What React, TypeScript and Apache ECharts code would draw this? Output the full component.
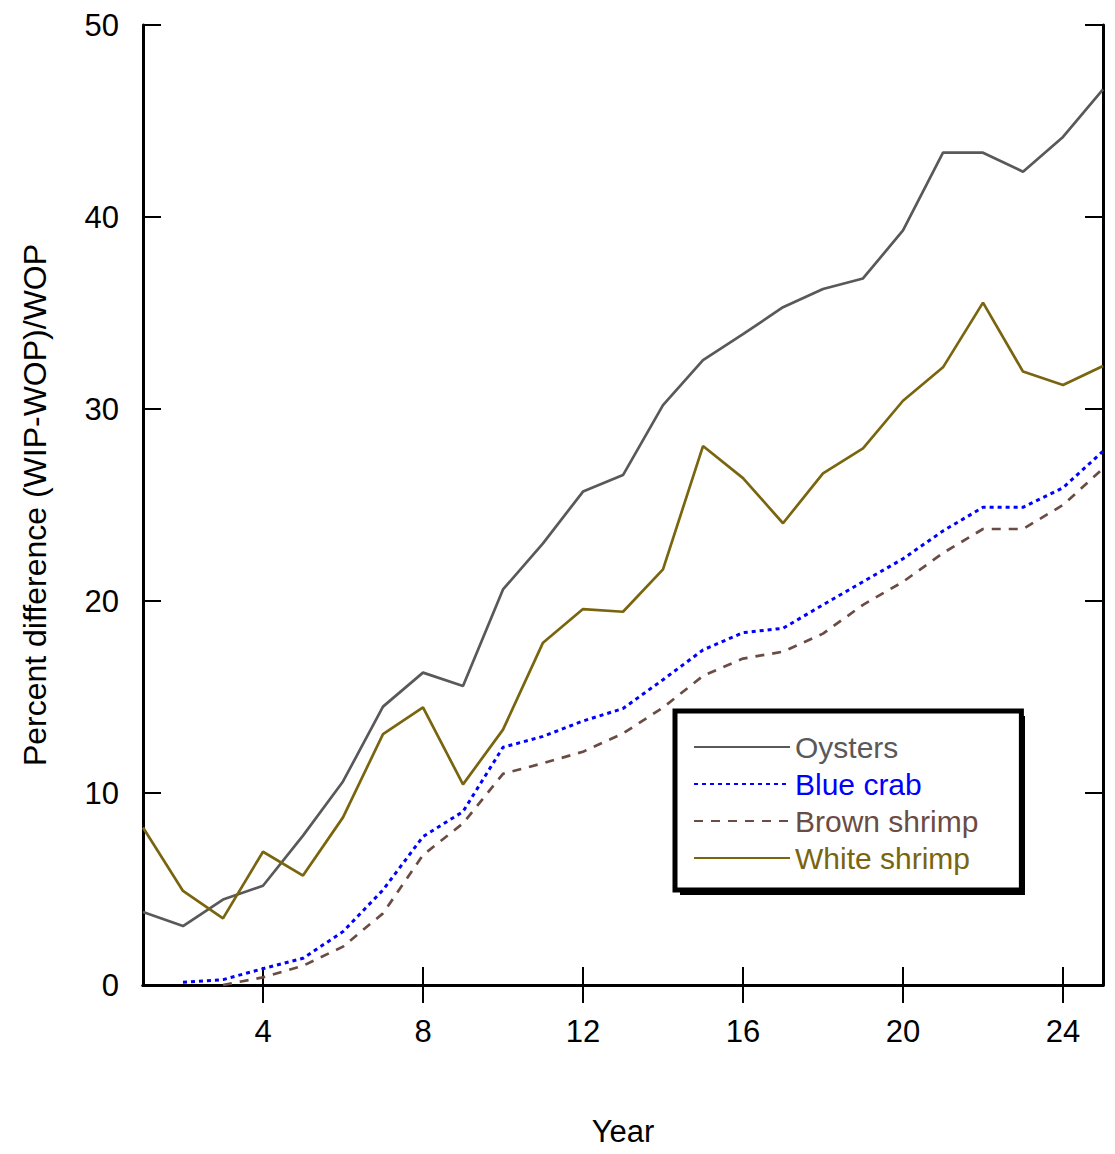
import React, { useEffect, useRef } from "react";
import * as echarts from "echarts";

const years = [1, 2, 3, 4, 5, 6, 7, 8, 9, 10, 11, 12, 13, 14, 15, 16, 17, 18, 19, 20, 21, 22, 23, 24, 25];
const oysters = [3.8, 3.07, 4.45, 5.17, 7.78, 10.6, 14.5, 16.27, 15.57, 20.6, 23.0, 25.7, 26.56, 30.2, 32.55, 33.9, 35.3, 36.25, 36.8, 39.3, 43.35, 43.35, 42.36, 44.17, 46.65];
const blueCrab = [null, 0.14, 0.28, 0.85, 1.39, 2.78, 4.95, 7.73, 9.03, 12.38, 12.95, 13.75, 14.4, 15.9, 17.45, 18.35, 18.58, 19.8, 21.0, 22.2, 23.65, 24.88, 24.88, 25.9, 27.8];
const brownShrimp = [null, null, 0, 0.4, 1.0, 2.0, 3.73, 6.77, 8.42, 11.0, 11.55, 12.15, 13.1, 14.45, 16.1, 17.0, 17.36, 18.3, 19.8, 21.0, 22.5, 23.75, 23.75, 25.0, 26.9];
const whiteShrimp = [8.2, 4.9, 3.47, 6.94, 5.7, 8.73, 13.07, 14.46, 10.45, 13.3, 17.83, 19.58, 19.44, 21.65, 28.07, 26.4, 24.05, 26.65, 27.95, 30.43, 32.17, 35.54, 31.95, 31.25, 32.24];
const xTicks = [4, 8, 12, 16, 20, 24];
const seriesNames = ["Oysters", "Blue crab", "Brown shrimp", "White shrimp"];
const colors = ["#595959", "#0000ff", "#6b4c44", "#7a650f"];

const FONT = "Liberation Sans, Arial, sans-serif";

function pairs(vals: (number | null)[]) {
  return years.map((y, i) => [y, vals[i]]);
}

export default function App() {
  const ref = useRef<HTMLDivElement>(null);
  useEffect(() => {
    if (!ref.current) return;
    const chart = echarts.init(ref.current, null, { renderer: "svg" });
    const axisLine = { show: true, lineStyle: { color: "#000", width: 3 } };
    const xCommon = {
      type: "value",
      min: 1,
      max: 25,
      axisLine,
      splitLine: { show: false },
      axisTick: { show: true, inside: true, length: 18, customValues: xTicks, lineStyle: { color: "#000", width: 2 } },
    };
    const yCommon = {
      type: "value",
      min: 0,
      max: 50,
      interval: 10,
      axisLine,
      splitLine: { show: false },
      axisTick: { show: true, inside: true, length: 18, lineStyle: { color: "#000", width: 2 } },
    };
    chart.setOption({
      animation: false,
      backgroundColor: "#fff",
      grid: { left: 143, top: 25, right: 12, bottom: 169, containLabel: false },
      xAxis: [
        {
          ...xCommon,
          position: "bottom",
          name: "Year",
          nameLocation: "middle",
          nameGap: 131,
          nameTextStyle: { fontSize: 31, color: "#000", fontFamily: FONT },
          axisLabel: { show: true, customValues: xTicks, margin: 31, fontSize: 31, color: "#000", fontFamily: FONT },
        },
        { ...xCommon, position: "top", axisLabel: { show: false } },
      ],
      yAxis: [
        {
          ...yCommon,
          position: "left",
          name: "Percent difference (WIP-WOP)/WOP",
          nameLocation: "middle",
          nameGap: 92,
          nameTextStyle: { fontSize: 32, color: "#000", fontFamily: FONT },
          axisLabel: { show: true, margin: 24, fontSize: 31, color: "#000", fontFamily: FONT },
        },
        { ...yCommon, position: "right", axisLabel: { show: false } },
      ],
      legend: {
        orient: "vertical",
        left: 675,
        top: 711,
        z: 4,
        padding: [21, 43, 17, 18],
        itemGap: 7,
        itemWidth: 96,
        itemHeight: 14,
        backgroundColor: "#fff",
        borderColor: "#000",
        borderWidth: 5,
        borderRadius: 0,
        itemStyle: { opacity: 0 },
        textStyle: { fontSize: 30, lineHeight: 30, fontFamily: FONT },
        data: seriesNames.map((n, i) => ({ name: n, textStyle: { color: colors[i] } })),
      },
      graphic: [
        {
          type: "rect",
          z: 3,
          shape: { x: 680, y: 716, width: 345, height: 179 },
          style: { fill: "#000" },
        },
      ],
      series: [
        { name: seriesNames[0], data: pairs(oysters), lineStyle: { width: 2.7, color: colors[0] } },
        { name: seriesNames[1], data: pairs(blueCrab), lineStyle: { width: 3, color: colors[1], type: [4, 4] } },
        { name: seriesNames[2], data: pairs(brownShrimp), lineStyle: { width: 2.7, color: colors[2], type: [9, 8] } },
        { name: seriesNames[3], data: pairs(whiteShrimp), lineStyle: { width: 2.7, color: colors[3] } },
      ].map((s, i) => ({
        type: "line",
        ...s,
        itemStyle: { color: colors[i] },
        symbol: "none",
        showSymbol: false,
        connectNulls: false,
      })),
    });
    return () => chart.dispose();
  }, []);
  return <div ref={ref} style={{ width: 1115, height: 1154, position: "absolute", left: 0, top: 0 }} />;
}
